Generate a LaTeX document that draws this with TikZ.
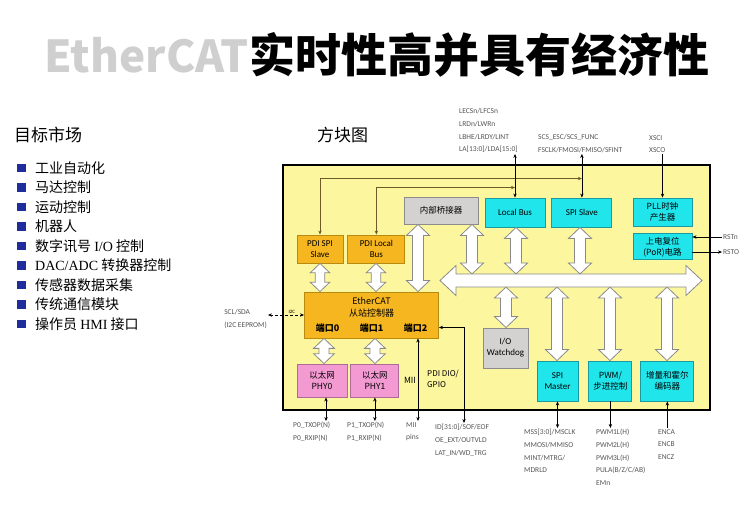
\documentclass[tikz,border=0pt]{standalone}
\usepackage{fontspec}
\setmainfont{Carlito}
\newfontfamily\cjk{Noto Sans CJK SC}
\newfontfamily\serifl{Liberation Serif}
\usetikzlibrary{arrows.meta, positioning, calc}

\definecolor{chipyellow}{HTML}{FCF69E}
\definecolor{pdiorange}{HTML}{F6B620}
\definecolor{pdiedge}{HTML}{B88A10}
\definecolor{percyan}{HTML}{20E6EC}
\definecolor{peredge}{HTML}{1A9AA0}
\definecolor{phypink}{HTML}{F49AD2}
\definecolor{phyedge}{HTML}{B06A98}
\definecolor{bridgegray}{HTML}{D4D2D0}
\definecolor{grayedge}{HTML}{8C8C8C}
\definecolor{fatedge}{HTML}{8A8A8A}
\definecolor{sigtext}{HTML}{555555}
\definecolor{listblue}{HTML}{1E2C9C}
\definecolor{pdiline}{HTML}{6E5A28}
\definecolor{fadedgray}{HTML}{CFCFCF}

\tikzset{
  blk/.style={draw, line width=0.9pt, align=center, inner sep=1pt,
              font=\cjk\fontsize{8.5}{11}\selectfont},
  pdi/.style={blk, fill=pdiorange, draw=pdiedge},
  per/.style={blk, fill=percyan, draw=peredge},
  gry/.style={blk, fill=bridgegray, draw=grayedge},
  phy/.style={blk, fill=phypink, draw=phyedge},
  latin/.style={font=\fontsize{9}{11}\selectfont},
  sig/.style={font=\fontsize{7.5}{12.7}\selectfont, text=sigtext, align=left, inner sep=1pt},
  fat/.style={draw=fatedge, fill=white, line width=0.8pt, line join=miter},
  wire/.style={line width=0.6pt, -{Stealth[length=4pt,width=3.4pt]}},
  wires/.style={line width=0.6pt, {Stealth[length=4pt,width=3.4pt]}-{Stealth[length=4pt,width=3.4pt]}},
  item/.style={font=\cjk\fontsize{14}{16}\selectfont, inner sep=0pt, anchor=west},
  bullet/.style={fill=listblue, minimum size=8.5pt, inner sep=0pt},
}

% fat double arrow: [scale] x, upper anchor, lower anchor
\newcommand\fatv[4][1]{%
  \pgfmathsetmacro\fh{11.5*#1}\pgfmathsetmacro\fs{5.5*#1}\pgfmathsetmacro\fl{11*#1}%
  \draw[fat] let \p1=(#3), \p2=(#4) in
    (#2pt,\y1) -- ({#2pt+\fh pt},{\y1-\fl pt}) -- ({#2pt+\fs pt},{\y1-\fl pt})
    -- ({#2pt+\fs pt},{\y2+\fl pt}) -- ({#2pt+\fh pt},{\y2+\fl pt}) -- (#2pt,\y2)
    -- ({#2pt-\fh pt},{\y2+\fl pt}) -- ({#2pt-\fs pt},{\y2+\fl pt})
    -- ({#2pt-\fs pt},{\y1-\fl pt}) -- ({#2pt-\fh pt},{\y1-\fl pt}) -- cycle;}

\begin{document}
\begin{tikzpicture}[x=1pt, y=-1pt]
\useasboundingbox (0,0) rectangle (749,520);
\fill[white] (0,0) rectangle (749,520);

% title
\node[anchor=west, inner sep=0, font=\cjk\bfseries\fontsize{46}{50}\selectfont] (title) at (249,55) {实时性高并具有经济性};
\node[anchor=east, inner sep=0, text=fadedgray, font=\cjk\bfseries\fontsize{44}{50}\selectfont] (titlepre) at (title.west) {EtherCAT};

% target markets
\node[anchor=west, inner sep=0, font=\cjk\fontsize{17}{20}\selectfont] (mkt) at (14,135) {目标市场};
\foreach \t [count=\i] in {工业自动化, 马达控制, 运动控制, 机器人,
    {数字讯号 {\serifl I/O} 控制}, {{\serifl DAC/ADC} 转换器控制},
    传感器数据采集, 传统通信模块, {操作员 {\serifl HMI} 接口}} {
  \node[bullet] (b\i) at (21.5,{148.5+19.5*\i}) {};
  \node[item, right=9pt of b\i] (m\i) {\t};
}

% block diagram
\node[anchor=west, inner sep=0, font=\cjk\fontsize{17}{20}\selectfont] (blkdiag) at (317,135) {方块图};
\node[draw=black, line width=1.8pt, fill=chipyellow, minimum width=427pt, minimum height=245pt, inner sep=0] (chip) at (496.5,287.5) {};

\node[gry, minimum width=74pt, minimum height=27pt] (bridge) at (441,210.5) {内部桥接器};
\node[per, latin, minimum width=60pt, minimum height=29pt] (lb) at (515,212.5) {Local Bus};
\node[per, latin, minimum width=60pt, minimum height=29pt, right=6pt of lb] (spis) {SPI Slave};
\node[per, minimum width=59pt, minimum height=28pt] (pll) at (662.5,212) {PLL时钟\\产生器};
\node[per, minimum width=59pt, minimum height=26pt, below=7pt of pll] (por) {上电复位\\(PoR)电路};
\node[pdi, latin, minimum width=46pt, minimum height=28pt] (pdispi) at (320,249) {PDI SPI\\Slave};
\node[pdi, latin, minimum width=57pt, minimum height=28pt, right=4pt of pdispi] (pdilb) {PDI Local\\Bus};
\node[pdi, minimum width=131pt, minimum height=46pt, font=\cjk\fontsize{9}{12}\selectfont] (esc) at (371.5,315)
  {EtherCAT\\从站控制器\\[3pt]\makebox[44pt]{\bfseries 端口0}\makebox[44pt]{\bfseries 端口1}\makebox[44pt]{\bfseries 端口2}};
\node[phy, minimum width=50pt, minimum height=33pt] (phy0) at (322,380.5) {以太网\\PHY0};
\node[phy, minimum width=48pt, minimum height=33pt, right=3pt of phy0] (phy1) {以太网\\PHY1};
\node[gry, latin, minimum width=45pt, minimum height=40pt] (wdog) at (505.5,348) {I/O\\Watchdog};
\node[per, latin, minimum width=41pt, minimum height=40pt] (spim) at (557.5,381) {SPI\\Master};
\node[per, minimum width=43pt, minimum height=40pt, right=10pt of spim] (pwm) {PWM/\\步进控制};
\node[per, minimum width=53pt, minimum height=40pt, right=8pt of pwm] (enc) {增量和霍尔\\编码器};

\node[font=\cjk\fontsize{8.5}{10}\selectfont, inner sep=0] (miilbl) at (410,380) {MII};
\node[font=\cjk\fontsize{8}{11}\selectfont, anchor=west, align=left, inner sep=0] (diolbl) at (427,379) {PDI DIO/\\GPIO};

% signal labels
\node[sig, anchor=south west] (lbsig) at (458,154) {LECSn/LFCSn\\LRDn/LWRn\\LBHE/LRDY/LINT\\LA[13:0]/LDA[15:0]};
\node[sig, anchor=south west] (spisig) at (537,154) {SCS\_ESC/SCS\_FUNC\\FSCLK/FMOSI/FMISO/SFINT};
\node[sig, anchor=south west] (xsig) at (648,154) {XSCI\\XSCO};
\node[sig, anchor=west] (rstn) at (722,237) {RSTn};
\node[sig, anchor=west] (rsto) at (722,252) {RSTO};
\node[sig, anchor=east] (scl) at (268,319) {SCL/SDA\\(I2C EEPROM)};
\node[sig, anchor=north west] (p0sig) at (292,421) {P0\_TXOP(N)\\P0\_RXIP(N)};
\node[sig, anchor=north west] (p1sig) at (346,421) {P1\_TXOP(N)\\P1\_RXIP(N)};
\node[sig, anchor=north west] (miisig) at (405,421) {MII\\pins};
\node[sig, anchor=north west] (idsig) at (434,423) {ID[31:0]/SOF/EOF\\OE\_EXT/OUTVLD\\LAT\_IN/WD\_TRG};
\node[sig, anchor=north west] (mssig) at (523,428) {MSS[3:0]/MSCLK\\MMOSI/MMISO\\MINT/MTRG/\\MDRLD};
\node[sig, anchor=north west] (pwmsig) at (595,428) {PWM1L(H)\\PWM2L(H)\\PWM3L(H)\\PULA(B/Z/C/AB)\\EMn};
\node[sig, anchor=north west] (encsig) at (657,428) {ENCA\\ENCB\\ENCZ};

% thin wires
\coordinate (p0x) at (326,0);
\coordinate (miix) at (418,0);
\coordinate (idx) at (464,0);
\draw[wires, draw=pdiline] (pdispi.north) |- ($(spis.north)+(0,-19)$);
\draw[wires, draw=pdiline] (pdilb.north) |- ($(lb.north)+(0,-10)$);
\draw[wires] (lb.north) -- (lb.north |- lbsig.south);
\draw[wires] (spis.north) -- (spis.north |- spisig.south);
\draw[wire] (pll.north |- xsig.south) -- (pll.north);
\draw[wire] (rstn.west) -- (por.east |- rstn.west);
\draw[wire] (por.east |- rsto.west) -- (rsto.west);
\draw[wires, densely dashed] (scl.east |- esc.west) -- node[above, pos=0.66, inner sep=1pt, font=\fontsize{5}{6}\selectfont] {I2C} (esc.west);
\draw[wires] (phy0.south -| p0x) -- (p0sig.north -| p0x);
\draw[wires] (phy1.south) -- (phy1.south |- p1sig.north);
\draw[wires] (esc.south -| miix) -- (miisig.north -| miix);
\draw[wires] (idsig.north -| idx) |- ($(esc.south east)+(0,-11)$);
\draw[wires] (spim.south) -- (spim.south |- mssig.north);
\draw[wire] (pwm.south) -- (pwm.south |- pwmsig.north);
\draw[wire] (enc.south |- encsig.north) -- (enc.south);

% fat arrows and internal bus
\coordinate (busN) at (571,274);
\coordinate (busS) at (571,287);
\fatv[0.85]{320}{pdispi.south}{esc.north}
\fatv[0.85]{376}{pdilb.south}{esc.north}
\fatv{418}{bridge.south}{esc.north}
\fatv{472}{bridge.south}{busN}
\fatv{516}{lb.south}{busN}
\fatv{580}{spis.south}{busN}
\fatv{506}{busS}{wdog.north}
\fatv{557}{busS}{spim.north}
\fatv{610}{busS}{pwm.north}
\fatv{667}{busS}{enc.north}
\fatv[0.9]{324}{esc.south}{phy0.north}
\fatv[0.9]{375}{esc.south}{phy1.north}
\draw[fat] (440,280.5) -- (456,265.5) -- (456,274) -- (686,274) -- (686,265.5) -- (702,280.5)
  -- (686,295.5) -- (686,287) -- (456,287) -- (456,295.5) -- cycle;
\end{tikzpicture}
\end{document}
